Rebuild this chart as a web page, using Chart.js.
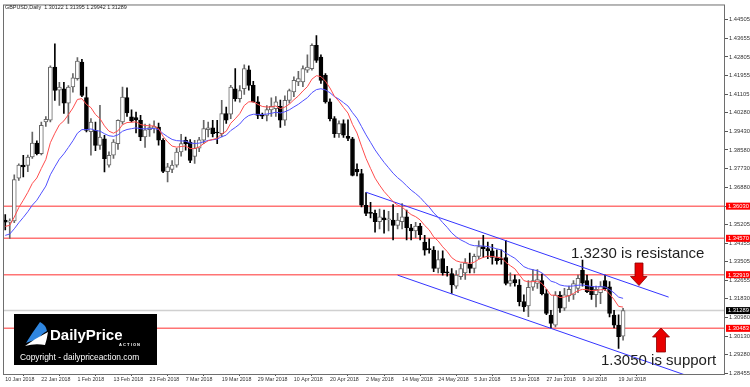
<!DOCTYPE html>
<html>
<head>
<meta charset="utf-8">
<script src="https://cdn.jsdelivr.net/npm/chart.js@4.4.1/dist/chart.umd.min.js"></script>
<style>
  html, body { margin: 0; padding: 0; background: #fff; }
</style>
</head>
<body>
<canvas id="chart" width="750" height="387"></canvas>
<script>
// GBPUSD daily, 10 Jan 2018 .. 20 Jul 2018 (one entry per trading day)
const opens = [
  1.3540, 1.3530, 1.3536, 1.3730, 1.3789, 1.3788, 1.3826, 1.3889, 1.3841, 1.3985,
  1.3993, 1.4234, 1.4129, 1.4136, 1.4071, 1.4144, 1.4182, 1.4257, 1.4096, 1.3941,
  1.3947, 1.3879, 1.3909, 1.3789, 1.3834, 1.3887, 1.3985, 1.4096, 1.4008, 1.4005,
  1.3993, 1.3917, 1.3950, 1.3958, 1.3962, 1.3902, 1.3759, 1.3770, 1.3789, 1.3849,
  1.3902, 1.3894, 1.3829, 1.3866, 1.3902, 1.3950, 1.3959, 1.3939, 1.3932, 1.4023,
  1.4020, 1.4136, 1.4091, 1.4136, 1.4222, 1.4151, 1.4076, 1.4015, 1.4015, 1.4040,
  1.4046, 1.4056, 1.3993, 1.4083, 1.4122, 1.4167, 1.4167, 1.4220, 1.4227, 1.4333,
  1.4280, 1.4197, 1.4076, 1.4000, 1.3932, 1.3978, 1.3920, 1.3909, 1.3770, 1.3751,
  1.3607, 1.3575, 1.3570, 1.3532, 1.3550, 1.3540, 1.3540, 1.3516, 1.3532, 1.3555,
  1.3505, 1.3490, 1.3512, 1.3440, 1.3410, 1.3403, 1.3320, 1.3365, 1.3305, 1.3297,
  1.3240, 1.3283, 1.3300, 1.3340, 1.3320, 1.3375, 1.3420, 1.3410, 1.3400, 1.3370,
  1.3365, 1.3370, 1.3252, 1.3270, 1.3245, 1.3170, 1.3150, 1.3235, 1.3252, 1.3265,
  1.3206, 1.3108, 1.3063, 1.3199, 1.3140, 1.3195, 1.3200, 1.3230, 1.3312, 1.3265,
  1.3239, 1.3201, 1.3210, 1.3265, 1.3237, 1.3108, 1.3063, 1.30122
];
const highs = [
  1.3565, 1.3545, 1.3745, 1.3795, 1.3834, 1.3835, 1.3939, 1.3900, 1.3985, 1.4010,
  1.4240, 1.4340, 1.4165, 1.4165, 1.4150, 1.4205, 1.4277, 1.4270, 1.4144, 1.4000,
  1.3985, 1.4061, 1.3925, 1.3850, 1.3905, 1.3995, 1.4144, 1.4140, 1.4040, 1.4030,
  1.4015, 1.3975, 1.3975, 1.3990, 1.3980, 1.3910, 1.3797, 1.3810, 1.3865, 1.3929,
  1.3917, 1.3905, 1.3902, 1.3915, 1.3993, 1.3985, 1.3993, 1.3993, 1.4083, 1.4053,
  1.4151, 1.4227, 1.4150, 1.4245, 1.4240, 1.4170, 1.4100, 1.4025, 1.4060, 1.4095,
  1.4100, 1.4085, 1.4104, 1.4135, 1.4190, 1.4215, 1.4240, 1.4290, 1.4340, 1.4377,
  1.4290, 1.4205, 1.4090, 1.4010, 1.3990, 1.3995, 1.3995, 1.3915, 1.3795, 1.3770,
  1.3665, 1.3620, 1.3585, 1.3590, 1.3585, 1.3580, 1.3610, 1.3570, 1.3615, 1.3585,
  1.3520, 1.3530, 1.3525, 1.3470, 1.3455, 1.3420, 1.3400, 1.3400, 1.3330, 1.3320,
  1.3310, 1.3340, 1.3365, 1.3390, 1.3385, 1.3445, 1.3470, 1.3440, 1.3430, 1.3405,
  1.3405, 1.3448, 1.3300, 1.3290, 1.3270, 1.3200, 1.3265, 1.3315, 1.3315, 1.3295,
  1.3225, 1.3130, 1.3215, 1.3215, 1.3230, 1.3240, 1.3265, 1.3290, 1.3358, 1.3290,
  1.3270, 1.3240, 1.3260, 1.3290, 1.3260, 1.3130, 1.3110, 1.31395
];
const lows = [
  1.3495, 1.3457, 1.3528, 1.3720, 1.3736, 1.3760, 1.3820, 1.3835, 1.3835, 1.3965,
  1.3985, 1.4083, 1.4060, 1.4024, 1.3979, 1.4120, 1.4175, 1.4100, 1.3940, 1.3834,
  1.3855, 1.3860, 1.3758, 1.3780, 1.3820, 1.3860, 1.3975, 1.4010, 1.3985, 1.3935,
  1.3900, 1.3870, 1.3920, 1.3935, 1.3880, 1.3755, 1.3713, 1.3755, 1.3780, 1.3830,
  1.3857, 1.3800, 1.3797, 1.3850, 1.3887, 1.3917, 1.3917, 1.3887, 1.3917, 1.3978,
  1.4000, 1.4080, 1.4075, 1.4110, 1.4130, 1.4075, 1.4000, 1.4000, 1.3990, 1.4010,
  1.4010, 1.3960, 1.3970, 1.4070, 1.4100, 1.4150, 1.4145, 1.4210, 1.4220, 1.4255,
  1.4160, 1.4070, 1.3990, 1.3915, 1.3915, 1.3915, 1.3900, 1.3740, 1.3740, 1.3600,
  1.3560, 1.3550, 1.3485, 1.3500, 1.3480, 1.3490, 1.3450, 1.3500, 1.3500, 1.3450,
  1.3450, 1.3460, 1.3450, 1.3380, 1.3390, 1.3305, 1.3300, 1.3290, 1.3285, 1.3207,
  1.3230, 1.3270, 1.3270, 1.3300, 1.3300, 1.3365, 1.3370, 1.3365, 1.3340, 1.3340,
  1.3340, 1.3245, 1.3240, 1.3240, 1.3150, 1.3125, 1.3101, 1.3220, 1.3230, 1.3200,
  1.3110, 1.3050, 1.3055, 1.3120, 1.3130, 1.3170, 1.3180, 1.3210, 1.3240, 1.3210,
  1.3180, 1.3146, 1.3160, 1.3220, 1.3100, 1.3050, 1.2957, 1.29942
];
const closes = [
  1.3530, 1.3536, 1.3724, 1.3789, 1.3781, 1.3826, 1.3889, 1.3841, 1.3970, 1.3997,
  1.4234, 1.4128, 1.4144, 1.4071, 1.4144, 1.4186, 1.4262, 1.4106, 1.3947, 1.3985,
  1.3879, 1.3917, 1.3819, 1.3834, 1.3894, 1.3993, 1.4098, 1.4026, 1.3990, 1.3995,
  1.3917, 1.3950, 1.3960, 1.3965, 1.3902, 1.3761, 1.3782, 1.3789, 1.3849, 1.3887,
  1.3887, 1.3811, 1.3866, 1.3904, 1.3955, 1.3959, 1.3932, 1.3935, 1.4023, 1.3993,
  1.4144, 1.4091, 1.4128, 1.4227, 1.4151, 1.4076, 1.4015, 1.4012, 1.4041, 1.4056,
  1.4076, 1.3993, 1.4083, 1.4128, 1.4174, 1.4182, 1.4227, 1.4234, 1.4333, 1.4265,
  1.4174, 1.4076, 1.4000, 1.3932, 1.3978, 1.3925, 1.3910, 1.3743, 1.3758, 1.3607,
  1.3570, 1.3570, 1.3532, 1.3555, 1.3540, 1.3545, 1.3516, 1.3540, 1.3555, 1.3505,
  1.3490, 1.3512, 1.3474, 1.3403, 1.3405, 1.3320, 1.3360, 1.3300, 1.3300, 1.3245,
  1.3290, 1.3320, 1.3345, 1.3320, 1.3375, 1.3420, 1.3410, 1.3400, 1.3370, 1.3355,
  1.3360, 1.3252, 1.3265, 1.3255, 1.3169, 1.3145, 1.3235, 1.3265, 1.3270, 1.3206,
  1.3116, 1.3071, 1.3199, 1.3140, 1.3200, 1.3225, 1.3252, 1.3275, 1.3253, 1.3215,
  1.3201, 1.3225, 1.3239, 1.3227, 1.3116, 1.3063, 1.3010, 1.31289
];

// axis ticks
const dateTickIdx = [0, 8, 16, 24, 32, 40, 48, 56, 64, 72, 80, 88, 96, 104, 112, 120, 128, 136];
const dateLabels = ['10 Jan 2018', '22 Jan 2018', '1 Feb 2018', '13 Feb 2018', '23 Feb 2018', '7 Mar 2018',
  '19 Mar 2018', '29 Mar 2018', '10 Apr 2018', '20 Apr 2018', '2 May 2018', '14 May 2018',
  '24 May 2018', '5 Jun 2018', '15 Jun 2018', '27 Jun 2018', '9 Jul 2018', '19 Jul 2018'];
const priceTicks = [1.44505, 1.43655, 1.42805, 1.41955, 1.41105, 1.40280, 1.39430, 1.38580, 1.37730,
  1.36880, 1.36030, 1.35205, 1.34355, 1.33505, 1.32655, 1.31830, 1.30980, 1.30130, 1.29280, 1.28455];

// drawn objects
const levels = [1.36030, 1.34570, 1.32919, 1.30483];
const lastPrice = 1.31289;
const channelUpper = [[80, 1.36661], [147.1, 1.31901]];
const channelLower = [[87, 1.32898], [150.8, 1.28364]];
const emaSeeds = { fast: 1.3507, slow: 1.3464 };

function ema(values, period, seed) {
    const k = 2 / (period + 1);
    let prev = seed;
    return values.map(v => (prev = prev + k * (v - prev)));
}

const idx = closes.map((_, i) => i);
const isUp = idx.map(i => closes[i] >= opens[i]);
const emaFast = ema(closes, 10, emaSeeds.fast);
const emaSlow = ema(closes, 20, emaSeeds.slow);

const FONT = 'Liberation Sans, Arial, sans-serif';

const overlay = {
    id: 'overlay',
    beforeDatasetsDraw(chart) {
        const { ctx, chartArea: a, scales: { y } } = chart;
        ctx.save();
        ctx.beginPath();
        ctx.rect(a.left, a.top, a.right - a.left, a.bottom - a.top);
        ctx.clip();
        ctx.lineWidth = 1.5;
        ctx.strokeStyle = '#d0d0d0';
        let py = y.getPixelForValue(lastPrice);
        ctx.beginPath(); ctx.moveTo(a.left, py); ctx.lineTo(a.right, py); ctx.stroke();
        ctx.strokeStyle = '#ff7474';
        levels.forEach(v => {
            py = y.getPixelForValue(v);
            ctx.beginPath(); ctx.moveTo(a.left, py); ctx.lineTo(a.right, py); ctx.stroke();
        });
        ctx.restore();
    },
    afterDraw(chart) {
        const { ctx, chartArea: a, scales: { y } } = chart;
        ctx.save();
        // frame
        ctx.strokeStyle = '#6e6e6e';
        ctx.lineWidth = 1;
        ctx.strokeRect(a.left + 0.5, a.top + 0.5, a.right - a.left - 1, a.bottom - a.top);

        // price boxes on the axis
        ctx.font = '5.8px ' + FONT;
        ctx.textBaseline = 'middle';
        ctx.textAlign = 'left';
        const box = (v, bg) => {
            const py = y.getPixelForValue(v);
            ctx.fillStyle = bg;
            ctx.fillRect(a.right + 1, py - 3.5, 24, 7);
            ctx.fillStyle = '#fff';
            ctx.fillText(v.toFixed(5), a.right + 3, py + 0.3);
        };
        levels.forEach(v => box(v, '#ff0000'));
        box(lastPrice, '#000');

        // title
        ctx.fillStyle = '#222';
        ctx.font = '5.4px ' + FONT;
        ctx.fillText('GBPUSD,Daily  1.30122 1.31395 1.29942 1.31289', 5, 8);

        // annotations
        ctx.fillStyle = '#1e1e1e';
        ctx.font = '15px ' + FONT;
        ctx.textBaseline = 'alphabetic';
        ctx.fillText('1.3230 is resistance', 571, 258);
        ctx.fillText('1.3050 is support', 601, 365);

        // arrows
        ctx.fillStyle = '#e80000';
        ctx.strokeStyle = '#8a0000';
        ctx.lineWidth = 0.8;
        ctx.beginPath();
        ctx.moveTo(635, 263); ctx.lineTo(643, 263); ctx.lineTo(643, 276.5); ctx.lineTo(647, 276.5);
        ctx.lineTo(639, 285.5); ctx.lineTo(630.5, 276.5); ctx.lineTo(635, 276.5); ctx.closePath();
        ctx.fill(); ctx.stroke();
        ctx.beginPath();
        ctx.moveTo(661, 328); ctx.lineTo(669.5, 337); ctx.lineTo(665.5, 337); ctx.lineTo(665.5, 352);
        ctx.lineTo(656.5, 352); ctx.lineTo(656.5, 337); ctx.lineTo(652.5, 337); ctx.closePath();
        ctx.fill(); ctx.stroke();

        // logo
        ctx.fillStyle = '#000';
        ctx.fillRect(14, 314, 143, 51);
        ctx.fillStyle = '#2f86e0';
        ctx.beginPath();
        ctx.moveTo(26, 343); ctx.quadraticCurveTo(32, 333, 40, 322);
        ctx.quadraticCurveTo(46, 325, 47, 331); ctx.quadraticCurveTo(41, 334, 38, 340);
        ctx.quadraticCurveTo(32, 340, 26, 343); ctx.closePath(); ctx.fill();
        ctx.fillStyle = '#fff';
        ctx.beginPath();
        ctx.moveTo(25, 346); ctx.quadraticCurveTo(36, 338, 48, 332);
        ctx.quadraticCurveTo(47, 339, 45, 345); ctx.quadraticCurveTo(35, 343, 25, 346); ctx.closePath(); ctx.fill();
        ctx.font = 'bold 15px ' + FONT;
        ctx.fillText('DailyPrice', 50, 340, 90);
        ctx.font = 'bold 4px ' + FONT;
        ctx.textAlign = 'right';
        ctx.fillText('A C T I O N', 140, 346);
        ctx.textAlign = 'left';
        ctx.font = '8.4px ' + FONT;
        ctx.fillText('Copyright - dailypriceaction.com', 20, 360, 131);
        ctx.restore();
    }
};

new Chart(document.getElementById('chart'), {
    type: 'bar',
    data: {
        datasets: [
            {
                type: 'line',
                data: idx.map(i => ({ x: i, y: emaFast[i] })),
                borderColor: '#ff4d4d',
                borderWidth: 1,
                pointRadius: 0,
                order: 0,
            },
            {
                type: 'line',
                data: idx.map(i => ({ x: i, y: emaSlow[i] })),
                borderColor: '#5050ff',
                borderWidth: 1,
                pointRadius: 0,
                order: 0,
            },
            {
                type: 'line',
                data: channelUpper.map(p => ({ x: p[0], y: p[1] })),
                borderColor: '#3535ff',
                borderWidth: 1,
                pointRadius: 0,
                order: 0,
            },
            {
                type: 'line',
                data: channelLower.map(p => ({ x: p[0], y: p[1] })),
                borderColor: '#3535ff',
                borderWidth: 1,
                pointRadius: 0,
                order: 0,
            },
            {
                data: idx.map(i => ({ x: i, y: [opens[i], closes[i]] })),
                grouped: false,
                barThickness: 4,
                minBarLength: 1,
                borderSkipped: false,
                borderWidth: 1,
                backgroundColor: isUp.map(u => (u ? '#ffffff' : '#000000')),
                borderColor: isUp.map(u => (u ? '#666666' : '#000000')),
                order: 1,
            },
            {
                data: idx.map(i => ({ x: i, y: [lows[i], highs[i]] })),
                grouped: false,
                barThickness: 1,
                backgroundColor: isUp.map(u => (u ? '#666666' : '#000000')),
                order: 2,
            },
        ],
    },
    options: {
        responsive: false,
        animation: false,
        devicePixelRatio: 1,
        layout: { padding: { left: 3, top: 4, right: 0, bottom: 0 } },
        plugins: { legend: { display: false }, tooltip: { enabled: false } },
        scales: {
            x: {
                type: 'linear',
                min: -0.5,
                max: 159.6,
                offset: false,
                afterBuildTicks: s => { s.ticks = dateTickIdx.map(v => ({ value: v })); },
                afterFit: s => { s.height = 13; },
                border: { display: false },
                grid: { drawOnChartArea: false, tickLength: 2, color: '#555' },
                ticks: {
                    autoSkip: false,
                    maxRotation: 0,
                    align: 'start',
                    padding: 0,
                    color: '#333',
                    font: { size: 5.3, family: FONT },
                    callback: (v, k) => dateLabels[k],
                },
            },
            y: {
                position: 'right',
                min: 1.28410,
                max: 1.45185,
                afterBuildTicks: s => { s.ticks = priceTicks.map(v => ({ value: v })); },
                afterFit: s => { s.width = 25; },
                border: { display: false },
                grid: { drawOnChartArea: false, tickLength: 3, color: '#555' },
                ticks: {
                    padding: 1,
                    color: '#333',
                    font: { size: 5.8, family: FONT },
                    callback: v => v.toFixed(5),
                },
            },
        },
    },
    plugins: [overlay],
});
</script>
</body>
</html>
